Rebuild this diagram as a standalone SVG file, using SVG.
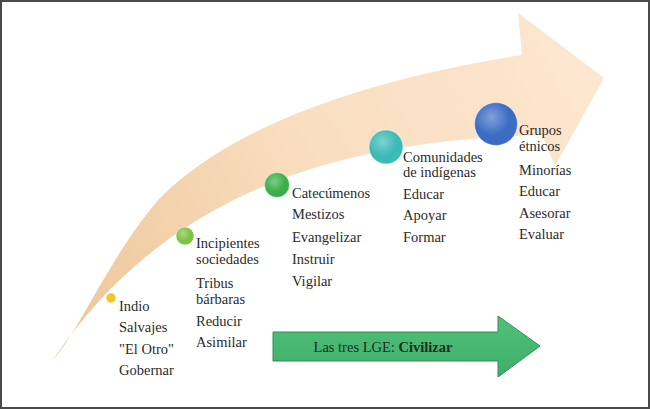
<svg xmlns="http://www.w3.org/2000/svg" width="650" height="409" viewBox="0 0 650 409">
<defs>
<linearGradient id="peach" x1="50" y1="360" x2="600" y2="60" gradientUnits="userSpaceOnUse">
<stop offset="0" stop-color="#EBC597"/>
<stop offset="0.5" stop-color="#F9DDBE"/>
<stop offset="1" stop-color="#FDE7D0"/>
</linearGradient>
<radialGradient id="gloss" cx="0.4" cy="0.35" r="0.7">
<stop offset="0" stop-color="#ffffff" stop-opacity="0.35"/>
<stop offset="0.6" stop-color="#ffffff" stop-opacity="0"/>
</radialGradient>
<linearGradient id="garrow" x1="0" y1="0" x2="0" y2="1">
<stop offset="0" stop-color="#52C07A"/>
<stop offset="1" stop-color="#3DAE68"/>
</linearGradient>
</defs>
<style>
.t{font-family:'Liberation Serif','Times New Roman',serif;font-size:14.5px;fill:#2b2b2b}
.dot{stroke:#ffffff;stroke-opacity:0.5;stroke-width:1}
.g{font-family:'Liberation Serif','Times New Roman',serif;font-size:14.5px;fill:#1E2E1E}
</style>
<rect x="0" y="0" width="650" height="409" fill="#ffffff"/>
<g id="big-arrow">
<path d="M53,360 C80,330 112,252 160,198 C230,128 360,80 522,55 L518,13 L604,78 L555,166 L542,135 C380,140 180,170 53,360 Z" fill="url(#peach)"/>
</g>
<g id="connectors"></g>
<g id="n1">
<circle class="dot" cx="111" cy="298" r="5" fill="#F2C530"/>
<text class="t" x="119" y="311">Indio</text>
<text class="t" x="119" y="332">Salvajes</text>
<text class="t" x="119" y="354">"El Otro"</text>
<text class="t" x="119" y="375">Gobernar</text>
</g>
<g id="n2">
<circle class="dot" cx="185" cy="236" r="9" fill="#7DC242"/>
<circle cx="185" cy="236" r="9" fill="url(#gloss)"/>
<text class="t" x="196" y="248">Incipientes</text>
<text class="t" x="196" y="264">sociedades</text>
<text class="t" x="196" y="288">Tribus</text>
<text class="t" x="196" y="304">bárbaras</text>
<text class="t" x="196" y="326">Reducir</text>
<text class="t" x="196" y="347">Asimilar</text>
</g>
<g id="n3">
<circle class="dot" cx="277" cy="185" r="12.5" fill="#3DAF4A"/>
<circle cx="277" cy="185" r="12.5" fill="url(#gloss)"/>
<text class="t" x="292" y="198">Catecúmenos</text>
<text class="t" x="292" y="219">Mestizos</text>
<text class="t" x="292" y="242">Evangelizar</text>
<text class="t" x="292" y="264">Instruir</text>
<text class="t" x="292" y="286">Vigilar</text>
</g>
<g id="n4">
<circle class="dot" cx="386" cy="147" r="17" fill="#3BBAB8"/>
<circle cx="386" cy="147" r="17" fill="url(#gloss)"/>
<text class="t" x="403" y="162">Comunidades</text>
<text class="t" x="403" y="177">de indígenas</text>
<text class="t" x="403" y="199">Educar</text>
<text class="t" x="403" y="220">Apoyar</text>
<text class="t" x="403" y="242">Formar</text>
</g>
<g id="n5">
<circle class="dot" cx="496" cy="124" r="21.5" fill="#3D6CC4"/>
<circle cx="496" cy="124" r="21.5" fill="url(#gloss)"/>
<text class="t" x="519" y="135">Grupos</text>
<text class="t" x="519" y="151">étnicos</text>
<text class="t" x="519" y="175">Minorías</text>
<text class="t" x="519" y="196">Educar</text>
<text class="t" x="519" y="218">Asesorar</text>
<text class="t" x="519" y="239">Evaluar</text>
</g>
<g id="lge">
<path d="M273,332 L498,332 L498,316 L540,346 L498,377 L498,361 L273,361 Z" fill="url(#garrow)" stroke="#2F8F55" stroke-width="1"/>
<text class="g" x="383" y="352" text-anchor="middle">Las tres LGE: <tspan font-weight="bold">Civilizar</tspan></text>
</g>
<rect x="1" y="1" width="648" height="407" fill="none" stroke="#4a4a4a" stroke-width="2"/>
</svg>
